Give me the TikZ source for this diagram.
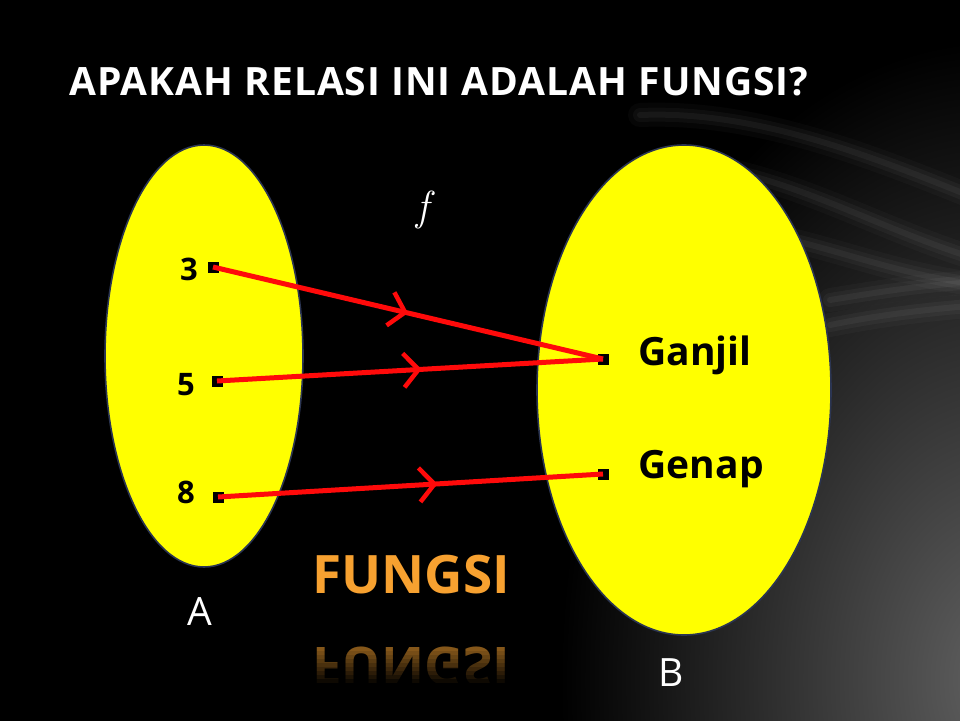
\documentclass[tikz,border=0pt]{standalone}
\usepackage{fontspec}
\setmainfont{Open Sans}
\newfontfamily\funcfont{Latin Modern Roman}
\usetikzlibrary{arrows.meta}
\usetikzlibrary{decorations.markings}
\definecolor{setfill}{HTML}{FFFF00}
\definecolor{setline}{HTML}{2B3552}
\definecolor{maparrow}{HTML}{FF0A0A}
\definecolor{verdict}{HTML}{F7A130}
\pgfdeclareradialshading{backglow}{\pgfpoint{0bp}{0bp}}{%
  color(0bp)=(black!62!white); color(10bp)=(black); color(50bp)=(black)}
\tikzset{set oval/.style={draw=setline,line width=1.6pt,fill=setfill}}
\tikzset{elem dot/.style={fill=black,minimum size=11pt,inner sep=0pt}}
\tikzset{elem label/.style={font=\fontsize{31}{36}\selectfont\bfseries,anchor=base}}
\tikzset{elem name/.style={font=\fontsize{39}{46}\selectfont\bfseries,anchor=base west}}
\tikzset{set name/.style={font=\fontsize{39}{46}\selectfont,text=white,anchor=base}}
\tikzset{map arrow/.style={draw=maparrow,line width=5pt,postaction={decorate},
    decoration={markings,mark=at position #1 with
      {\arrow[maparrow,line width=4.5pt]{Straight Barb[length=15pt,width=34pt]}}}}}
\tikzset{streak/.style={white,opacity=#1,line cap=round}}

\begin{document}
\begin{tikzpicture}[x=1pt,y=-1pt]
  % backdrop
  \fill[black] (0,0) rectangle (960,720);
  \useasboundingbox (0,0) rectangle (960,720);
  \begin{scope}
    \clip (0,0) rectangle (960,720);
    \shade[shading=backglow] (-100,-920) rectangle (2100,2280);
    \foreach \w/\o in {24/.025,14/.035,6/.045} {
      \draw[streak=\o,line width=\w pt] (640,115) .. controls (760,110) and (880,160) .. (980,200);
      \draw[streak=\o,line width=\w pt] (700,165) .. controls (800,180) and (880,230) .. (980,260);
      \draw[streak=\o,line width=\w pt] (770,235) .. controls (840,250) and (900,275) .. (980,285);
      \draw[streak=\o,line width=\w pt] (830,300) .. controls (880,292) and (920,285) .. (980,282);
      \draw[streak=\o,line width=\w pt] (830,325) .. controls (880,315) and (920,310) .. (980,305);
    }
  \end{scope}

  \node[text=white,font=\fontsize{39}{46}\selectfont\bfseries\addfontfeatures{LetterSpace=2.5},
    anchor=base west] (title) at (66,95) {APAKAH RELASI INI ADALAH FUNGSI?};

  % the two sets
  \path[set oval] (204,356) ellipse (99 and 211);
  \path[set oval] (684,390) ellipse (147 and 245);
  \node[set name] (setA) at (200,625) {A};
  \node[set name] (setB) at (671,686) {B};
  \node[text=white,font=\fontsize{42}{48}\funcfont\itshape] (fname) at (423,210) {f};

  \node[elem dot] (d3) at (213,267) {};
  \node[elem dot] (d5) at (217,381) {};
  \node[elem dot] (d8) at (218,497) {};
  \node[elem dot] (dganjil) at (603,359) {};
  \node[elem dot] (dgenap) at (603,474) {};
  \node[elem label] (n3) at (189,280) {3};
  \node[elem label] (n5) at (186,395) {5};
  \node[elem label] (n8) at (186,503) {8};
  \node[elem name] (ganjil) at (635,365) {Ganjil};
  \node[elem name] (genap) at (635,478) {Genap};

  \draw[map arrow=.5] (d3.center) -- (dganjil.center);
  \draw[map arrow=.53] (d5.center) -- (dganjil.center);
  \draw[map arrow=.57] (d8.center) -- (dgenap.center);

  \node[text=verdict,font=\fontsize{53}{60}\selectfont\bfseries,anchor=base west]
    (verdict) at (309,593) {FUNGSI};
  \node[text=verdict!60!black,font=\fontsize{53}{60}\selectfont\bfseries,anchor=base west,yscale=-1]
    (mirror) at (309,647) {FUNGSI};
  % fade the mirror image out downwards
  \foreach \i in {1,...,10}
    \fill[black,opacity=\i/10] (300,643+4*\i) rectangle (512,647+4*\i);
  \fill[black] (300,687) rectangle (512,700);
\end{tikzpicture}
\end{document}
